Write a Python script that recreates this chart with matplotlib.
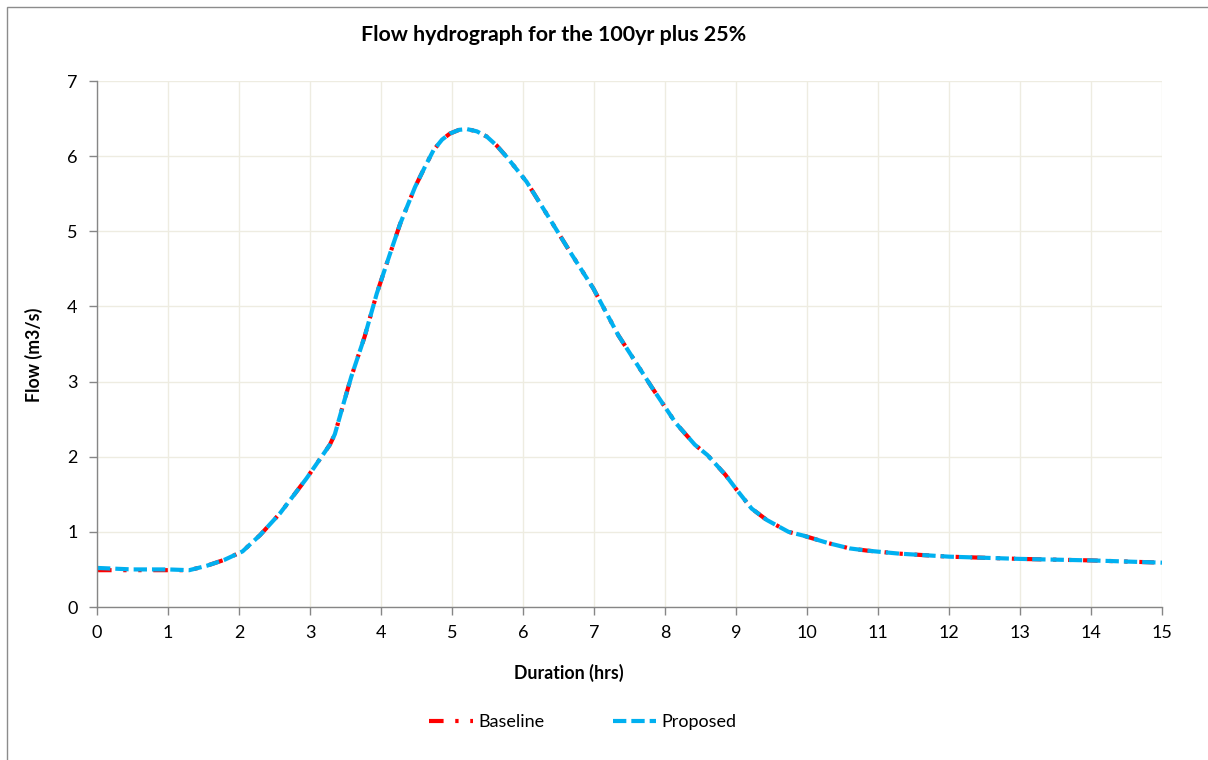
import matplotlib
matplotlib.use("Agg")
import matplotlib.pyplot as plt
from matplotlib.patches import Rectangle

plt.rcParams['font.family'] = ['Lato', 'DejaVu Sans']

# Data
hours = [0.0, 0.5, 1.0, 1.3, 1.55, 1.8, 2.05, 2.3, 2.58, 2.95, 3.28, 3.35,
         3.47, 3.58, 3.77, 3.94, 4.13, 4.27, 4.48, 4.62, 4.74, 4.86, 4.97,
         5.1, 5.21, 5.35, 5.49, 5.63, 5.77, 6.05, 6.36, 6.66, 6.99, 7.34,
         7.81, 8.15, 8.42, 8.6, 8.85, 9.01, 9.22, 9.43, 9.74, 9.95, 10.3,
         10.6, 10.85, 11.3, 12.0, 13.0, 14.0, 15.0]
baseline = [0.49, 0.49, 0.49, 0.49, 0.55, 0.63, 0.74, 0.96, 1.25, 1.71, 2.16,
            2.3, 2.7, 3.06, 3.6, 4.17, 4.71, 5.1, 5.59, 5.86, 6.08, 6.22,
            6.30, 6.35, 6.36, 6.33, 6.26, 6.14, 5.99, 5.66, 5.19, 4.73, 4.24,
            3.62, 2.93, 2.45, 2.16, 2.02, 1.76, 1.56, 1.31, 1.16, 1.0, 0.95,
            0.85, 0.78, 0.75, 0.71, 0.67, 0.64, 0.62, 0.59]
proposed = [0.52, 0.5, 0.5, 0.49, 0.55, 0.63, 0.74, 0.96, 1.25, 1.71, 2.16,
            2.3, 2.7, 3.06, 3.6, 4.17, 4.71, 5.1, 5.59, 5.86, 6.08, 6.22,
            6.30, 6.35, 6.36, 6.33, 6.26, 6.14, 5.99, 5.66, 5.19, 4.73, 4.24,
            3.62, 2.93, 2.45, 2.16, 2.02, 1.76, 1.56, 1.31, 1.16, 1.0, 0.95,
            0.85, 0.78, 0.75, 0.71, 0.67, 0.64, 0.62, 0.59]
x_ticks = list(range(0, 16))
y_ticks = list(range(0, 8))
title = "Flow hydrograph for the 100yr plus 25%"
x_label = "Duration (hrs)"
y_label = "Flow (m3/s)"
series_names = ["Baseline", "Proposed"]

W, H = 1208, 760
fig = plt.figure(figsize=(W / 100, H / 100), dpi=100)
fig.patch.set_facecolor("white")

# outer chart border
fig.patches.append(Rectangle((7 / W, -0.01), 1.2, (H - 7) / H + 0.01,
                             transform=fig.transFigure, fill=False,
                             edgecolor="#8c8c8c", linewidth=1.0))

ax = fig.add_axes([97 / W, 1 - 607 / H, (1162 - 97) / W, (607 - 81) / H])
ax.set_xlim(0, 15)
ax.set_ylim(0, 7)
ax.set_xticks(x_ticks)
ax.set_yticks(y_ticks)
ax.grid(True, color="#eeece1", linewidth=1.0)
ax.set_axisbelow(True)
for s in ["top", "right"]:
    ax.spines[s].set_visible(False)
for s in ["left", "bottom"]:
    ax.spines[s].set_color("#868686")
    ax.spines[s].set_linewidth(1.0)
ax.tick_params(axis="both", direction="out", length=6, width=1,
               color="#868686", labelsize=13, labelcolor="black")
ax.tick_params(axis="x", pad=7)
ax.tick_params(axis="y", pad=8)

ax.plot(hours, baseline, color="#ff0000", linewidth=3.0,
        dashes=(3.5, 2.8, 0.8, 2.8, 0.8, 2.8), label=series_names[0],
        solid_capstyle="butt", dash_capstyle="butt", solid_joinstyle="round")
ax.plot(hours, proposed, color="#00b0f0", linewidth=3.0,
        dashes=(3.2, 1.2), label=series_names[1], dash_capstyle="butt",
        dash_joinstyle="round")

fig.text(554 / W, 1 - 35 / H, title, ha="center", va="center",
         fontsize=15.4, fontweight="bold")
fig.text(569 / W, 1 - 673 / H, x_label, ha="center", va="center",
         fontsize=12.8, fontweight="bold")
fig.text(34 / W, 1 - 355 / H, y_label, ha="center", va="center",
         fontsize=12.8, fontweight="bold", rotation=90)

fig.legend(loc="center", bbox_to_anchor=(583 / W, 1 - 722 / H), ncol=2,
           frameon=False, fontsize=13, handlelength=2.4, handletextpad=0.3,
           columnspacing=3.8)

fig.savefig("out.png", dpi=100)
